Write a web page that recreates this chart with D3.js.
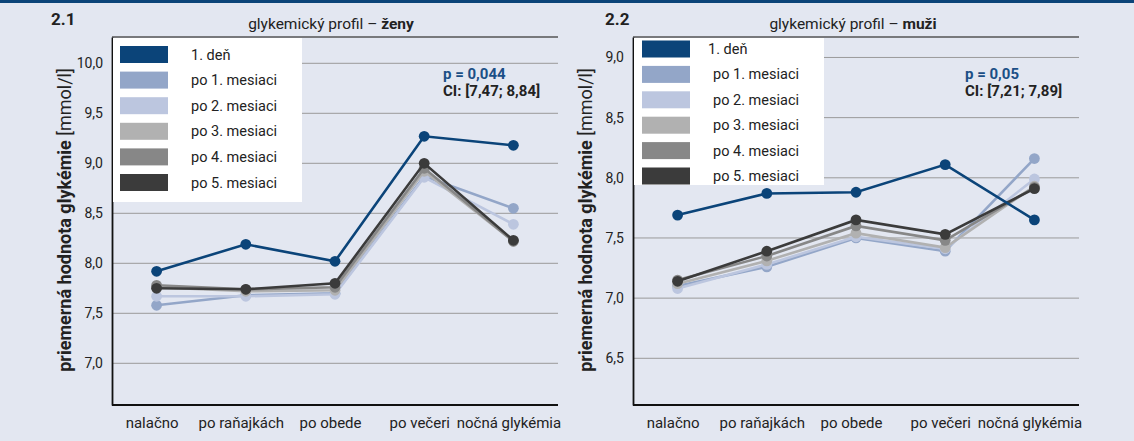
<!DOCTYPE html>
<html lang="sk">
<head>
<meta charset="UTF-8"/>
<script src="https://d3js.org/d3.v7.min.js"></script>
<style>
  body { margin: 0; background: #e3e7f1; }
  svg { display: block; font-family: Roboto, "Open Sans", sans-serif; }
  .grid line { stroke: #9a9a9a; stroke-width: 1; }
  .ytick .tick text { font-size: 14px; fill: #222; font-family: Roboto, sans-serif; }
  .xtick .tick text { font-size: 15px; fill: #222; font-family: Roboto, sans-serif; }
</style>
</head>
<body>
<script>
  var categories = ["nalačno", "po raňajkách", "po obede", "po večeri", "nočná glykémia"];
  var seriesNames = ["1. deň", "po 1. mesiaci", "po 2. mesiaci", "po 3. mesiaci", "po 4. mesiaci", "po 5. mesiaci"];
  var seriesColors = ["#0b4479", "#93a6c8", "#bcc6df", "#b1b1b1", "#878787", "#3b3b3b"];

  // ženy
  var zenyDen1 = [7.92, 8.19, 8.02, 9.27, 9.18];
  var zenyM1 = [7.58, 7.68, 7.70, 8.87, 8.55];
  var zenyM2 = [7.67, 7.67, 7.69, 8.86, 8.39];
  var zenyM3 = [7.76, 7.72, 7.73, 8.92, 8.22];
  var zenyM4 = [7.78, 7.74, 7.76, 8.95, 8.22];
  var zenyM5 = [7.75, 7.74, 7.80, 9.00, 8.23];
  var zenyTicks = [7.0, 7.5, 8.0, 8.5, 9.0, 9.5, 10.0];

  // muži
  var muziDen1 = [7.69, 7.87, 7.88, 8.11, 7.65];
  var muziM1 = [7.10, 7.26, 7.50, 7.39, 8.16];
  var muziM2 = [7.08, 7.28, 7.51, 7.41, 7.99];
  var muziM3 = [7.12, 7.31, 7.54, 7.42, 7.93];
  var muziM4 = [7.15, 7.35, 7.60, 7.48, 7.92];
  var muziM5 = [7.14, 7.39, 7.65, 7.53, 7.91];
  var muziTicks = [6.5, 7.0, 7.5, 8.0, 8.5, 9.0];

  var W = 1134, H = 441;
  var svg = d3.select("body").append("svg").attr("width", W).attr("height", H);
  svg.append("rect").attr("width", W).attr("height", H).attr("fill", "#e3e7f1");
  svg.append("rect").attr("width", W).attr("height", 3).attr("fill", "#0b4479");

  var fmt = function(d) { return d3.format(".1f")(d).replace(".", ","); };

  function panel(opt) {
    var g = svg.append("g");
    var x = d3.scalePoint().domain(categories).range([opt.x0, opt.x1]).padding(0.5);
    var y = d3.scaleLinear().domain(opt.domain).range([405, 37]);

    // grid
    g.append("g").attr("class", "grid").selectAll("line")
      .data(opt.ticks).enter().append("line")
      .attr("x1", opt.x0).attr("x2", opt.x1)
      .attr("y1", function(d) { return y(d); }).attr("y2", function(d) { return y(d); });

    // top frame line
    g.append("line").attr("x1", opt.x0).attr("x2", opt.x1).attr("y1", 37).attr("y2", 37)
      .attr("stroke", "#555").attr("stroke-width", 1.5);

    // axes
    var ya = g.append("g").attr("class", "ytick").attr("transform", "translate(" + opt.x0 + ",0)")
      .call(d3.axisLeft(y).tickValues(opt.ticks).tickFormat(fmt).tickSize(0).tickPadding(9));
    ya.select(".domain").attr("stroke", "#111").attr("stroke-width", 1.8);
    var xa = g.append("g").attr("class", "xtick").attr("transform", "translate(0,405)")
      .call(d3.axisBottom(x).tickSize(0).tickPadding(10));
    xa.select(".domain").attr("stroke", "#111").attr("stroke-width", 1.8)
      .attr("d", "M" + opt.x0 + ",0H" + opt.x1);
    xa.selectAll(".tick text").attr("dy", "0.85em").attr("dx", -5);

    // series (gray ones first, first day on top)
    var order = [1, 2, 3, 4, 5, 0];
    var line = d3.line().x(function(d, i) { return x(categories[i]); }).y(function(d) { return y(d); });
    order.forEach(function(k) {
      var vals = opt.series[k];
      g.append("path").datum(vals).attr("d", line)
        .attr("fill", "none").attr("stroke", seriesColors[k]).attr("stroke-width", 2.6);
      g.selectAll(null).data(vals).enter().append("circle")
        .attr("cx", function(d, i) { return x(categories[i]); })
        .attr("cy", function(d) { return y(d); })
        .attr("r", 5.4).attr("fill", seriesColors[k]);
    });

    // legend
    var lg = g.append("g");
    lg.append("rect").attr("x", opt.x0 + 1).attr("y", 38).attr("width", opt.legW).attr("height", opt.legH)
      .attr("fill", "#fff");
    seriesNames.forEach(function(n, i) {
      var cy = opt.legY0 + i * opt.legStep;
      lg.append("rect").attr("x", opt.sw0).attr("y", cy - 8.5).attr("width", 48).attr("height", 17)
        .attr("fill", seriesColors[i]);
      lg.append("text").attr("x", opt.legTx + (i > 0 ? opt.legShift : 0)).attr("y", cy + 5)
        .attr("font-size", 14.5).attr("fill", "#222").text(n);
    });

    // titles
    svg.append("text").attr("x", opt.numX).attr("y", 25).attr("font-size", 17)
      .attr("font-weight", "bold").attr("fill", "#222").text(opt.num);
    var t = svg.append("text").attr("x", opt.titleX).attr("y", 29).attr("text-anchor", "middle")
      .attr("font-size", 15.5).attr("fill", "#222");
    t.append("tspan").text("glykemický profil – ");
    t.append("tspan").attr("font-weight", "bold").text(opt.who);

    // stats
    svg.append("text").attr("x", opt.pX).attr("y", 79).attr("font-size", 15)
      .attr("font-weight", "bold").attr("fill", "#1b4f86").text(opt.p);
    svg.append("text").attr("x", opt.pX).attr("y", 96).attr("font-size", 15)
      .attr("font-weight", "bold").attr("fill", "#222").text(opt.ci);

    // y label
    var yl = svg.append("text").attr("transform", "translate(" + opt.ylX + ",220) rotate(-90)")
      .attr("text-anchor", "middle").attr("font-size", 18).attr("fill", "#222");
    yl.append("tspan").attr("font-weight", "bold").text("priemerná hodnota glykémie ");
    yl.append("tspan").text("[mmol/l]");
  }

  panel({
    x0: 112, x1: 558, domain: [6.583, 10.263], ticks: zenyTicks,
    series: [zenyDen1, zenyM1, zenyM2, zenyM3, zenyM4, zenyM5],
    legW: 189, legH: 164, legY0: 54.5, legStep: 25.6, sw0: 120, legTx: 191, legShift: 0,
    num: "2.1", numX: 51, titleX: 331, who: "ženy",
    pX: 443, p: "p = 0,044", ci: "CI: [7,47; 8,84]", ylX: 71
  });

  panel({
    x0: 633, x1: 1079, domain: [6.112, 9.170], ticks: muziTicks,
    series: [muziDen1, muziM1, muziM2, muziM3, muziM4, muziM5],
    legW: 190, legH: 147, legY0: 49, legStep: 25.4, sw0: 642, legTx: 708, legShift: 5,
    num: "2.2", numX: 605, titleX: 853, who: "muži",
    pX: 965, p: "p = 0,05", ci: "CI: [7,21; 7,89]", ylX: 592
  });
</script>
</body>
</html>
